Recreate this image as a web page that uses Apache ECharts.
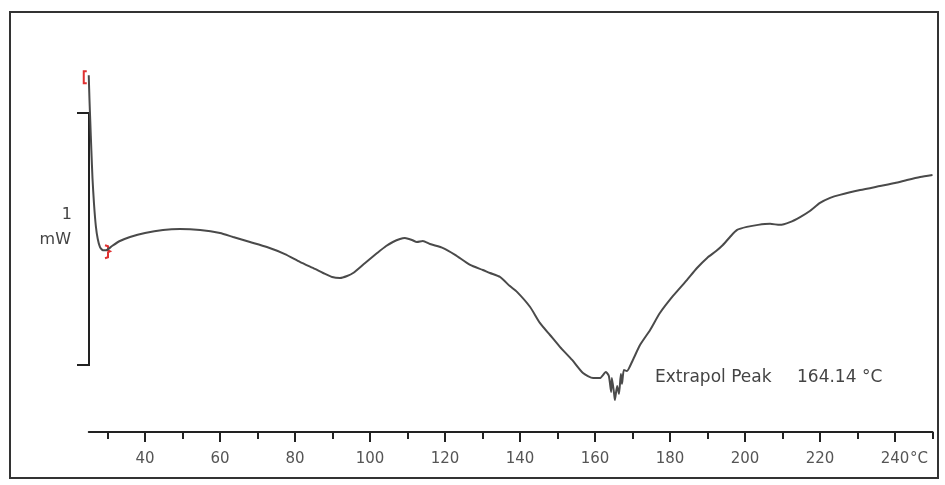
<!DOCTYPE html>
<html>
<head>
<meta charset="utf-8">
<script src="https://cdn.jsdelivr.net/npm/echarts@6/dist/echarts.min.js"></script>
<style>
  html,body{margin:0;padding:0;background:#fff;}
  #chart{width:945px;height:485px;}
</style>
</head>
<body>
<div id="chart"></div>
<script>
// DSC curve, temperature (°C) vs heat flow (mW, arbitrary offset)
var temps = [25.0,25.2,25.4,25.7,26.0,26.4,26.9,27.4,28.0,28.8,29.6,31.2,33.3,36.0,40.0,44.8,49.3,54.7,60.0,63.5,68.0,72.5,77.3,81.3,85.3,87.5,89.9,92.0,93.9,95.5,98.7,101.9,104.3,106.1,108.0,109.3,111.2,112.5,114.1,116.0,119.5,122.7,126.7,130.1,132.0,134.7,137.3,139.2,142.7,145.3,148.0,150.7,153.9,156.8,159.5,161.3,162.9,163.7,164.3,164.5,165.1,165.3,165.9,166.4,166.9,167.2,167.7,168.5,170.1,172.0,174.7,177.3,180.8,184.5,187.2,189.9,192.3,194.1,196.0,197.9,200.5,203.5,206.7,209.3,212.0,214.7,217.3,220.0,222.7,225.3,230.7,236.0,240.0,243.2,246.7,250.0];
var heatFlow = [1.15,1.05,0.97,0.85,0.74,0.64,0.55,0.50,0.468,0.455,0.455,0.472,0.492,0.508,0.524,0.536,0.540,0.536,0.524,0.508,0.488,0.468,0.440,0.409,0.381,0.365,0.349,0.345,0.353,0.365,0.405,0.444,0.472,0.488,0.500,0.504,0.496,0.488,0.492,0.480,0.464,0.437,0.397,0.377,0.365,0.349,0.313,0.290,0.230,0.167,0.119,0.071,0.020,-0.032,-0.052,-0.052,-0.028,-0.044,-0.107,-0.052,-0.115,-0.139,-0.083,-0.115,-0.036,-0.075,-0.020,-0.024,0.020,0.079,0.139,0.206,0.274,0.337,0.385,0.425,0.452,0.476,0.508,0.536,0.548,0.556,0.560,0.556,0.567,0.587,0.611,0.643,0.663,0.675,0.694,0.710,0.722,0.734,0.746,0.754];
var majorTicks = [40,60,80,100,120,140,160,180,200,220,240];
var minorTicks = [30,50,70,90,110,130,150,170,190,210,230,250];
var peakText = 'Extrapol Peak';
var peakValue = '164.14 °C';
var scaleBar = [0, 1]; // 1 mW

var curve = [];
for (var i = 0; i < temps.length; i++) curve.push([temps[i], heatFlow[i]]);

var font = 'DejaVu Sans';
var myChart = echarts.init(document.getElementById('chart'));

var option = {
  animation: false,
  backgroundColor: '#fff',
  grid: {left: 88.75, right: 12.5, top: 50, bottom: 53},
  xAxis: [{
    type: 'value', min: 25, max: 250,
    splitLine: {show: false},
    axisLine: {show: true, onZero: false, lineStyle: {color: '#222', width: 2}},
    axisTick: {show: true, customValues: majorTicks, length: 10, lineStyle: {color: '#222', width: 2}},
    axisLabel: {show: true, customValues: majorTicks, margin: 20, color: '#555', fontFamily: font, fontSize: 15}
  }, {
    type: 'value', min: 25, max: 250, position: 'bottom',
    splitLine: {show: false},
    axisLine: {show: false, onZero: false},
    axisTick: {show: true, customValues: minorTicks, length: 7, lineStyle: {color: '#222', width: 2}},
    axisLabel: {show: false}
  }],
  yAxis: {
    type: 'value', min: -0.266, max: 1.25, show: false, splitLine: {show: false}
  },
  series: [{
    type: 'line', xAxisIndex: 0, data: curve, showSymbol: false, smooth: 0.2,
    lineStyle: {color: '#4a4a4a', width: 2}
  }]
};
myChart.setOption(option);

// annotations placed through the chart's own coordinate system
var pBarTop = myChart.convertToPixel({gridIndex: 0}, [25.1, scaleBar[1]]);
var pBarBot = myChart.convertToPixel({gridIndex: 0}, [25.1, scaleBar[0]]);
var pStart = myChart.convertToPixel({gridIndex: 0}, curve[0]);
var pEnd = myChart.convertToPixel({gridIndex: 0}, curve[10]);
var bx = Math.round(pBarTop[0]);

myChart.setOption({
  graphic: [
    {type: 'rect', shape: {x: 10, y: 12, width: 928, height: 466},
      style: {fill: 'none', stroke: '#333', lineWidth: 2}},
    {type: 'polyline', shape: {points: [[bx - 12, pBarTop[1]], [bx, pBarTop[1]], [bx, pBarBot[1]], [bx - 12, pBarBot[1]]]},
      style: {fill: 'none', stroke: '#222', lineWidth: 2}},
    {type: 'text', x: 72, y: (pBarTop[1] + pBarBot[1]) / 2 - 24,
      style: {text: '1', fill: '#444', font: '16px ' + font, textAlign: 'right', textVerticalAlign: 'middle'}},
    {type: 'text', x: 71, y: (pBarTop[1] + pBarBot[1]) / 2 + 1,
      style: {text: 'mW', fill: '#444', font: '16px ' + font, textAlign: 'right', textVerticalAlign: 'middle'}},
    {type: 'polyline', shape: {points: [[pStart[0] - 2, pStart[1] - 4], [pStart[0] - 5, pStart[1] - 4], [pStart[0] - 5, pStart[1] + 8], [pStart[0] - 2, pStart[1] + 8]]},
      style: {fill: 'none', stroke: '#e03030', lineWidth: 2}},
    {type: 'polyline', shape: {points: [[pEnd[0] - 1, pEnd[1] - 5], [pEnd[0] + 2, pEnd[1] - 4], [pEnd[0] + 2, pEnd[1]], [pEnd[0] + 4, pEnd[1] + 1], [pEnd[0] + 2, pEnd[1] + 2], [pEnd[0] + 2, pEnd[1] + 7], [pEnd[0] - 1, pEnd[1] + 8]]},
      style: {fill: 'none', stroke: '#e03030', lineWidth: 2}},
    {type: 'text', x: 655, y: 378,
      style: {text: peakText, fill: '#444', font: '17px ' + font, textVerticalAlign: 'middle'}},
    {type: 'text', x: 797, y: 378,
      style: {text: peakValue, fill: '#444', font: '17px ' + font, textVerticalAlign: 'middle'}},
    {type: 'text', x: 910, y: 459,
      style: {text: '°C', fill: '#555', font: '15px ' + font, textVerticalAlign: 'middle'}}
  ]
});
</script>
</body>
</html>
